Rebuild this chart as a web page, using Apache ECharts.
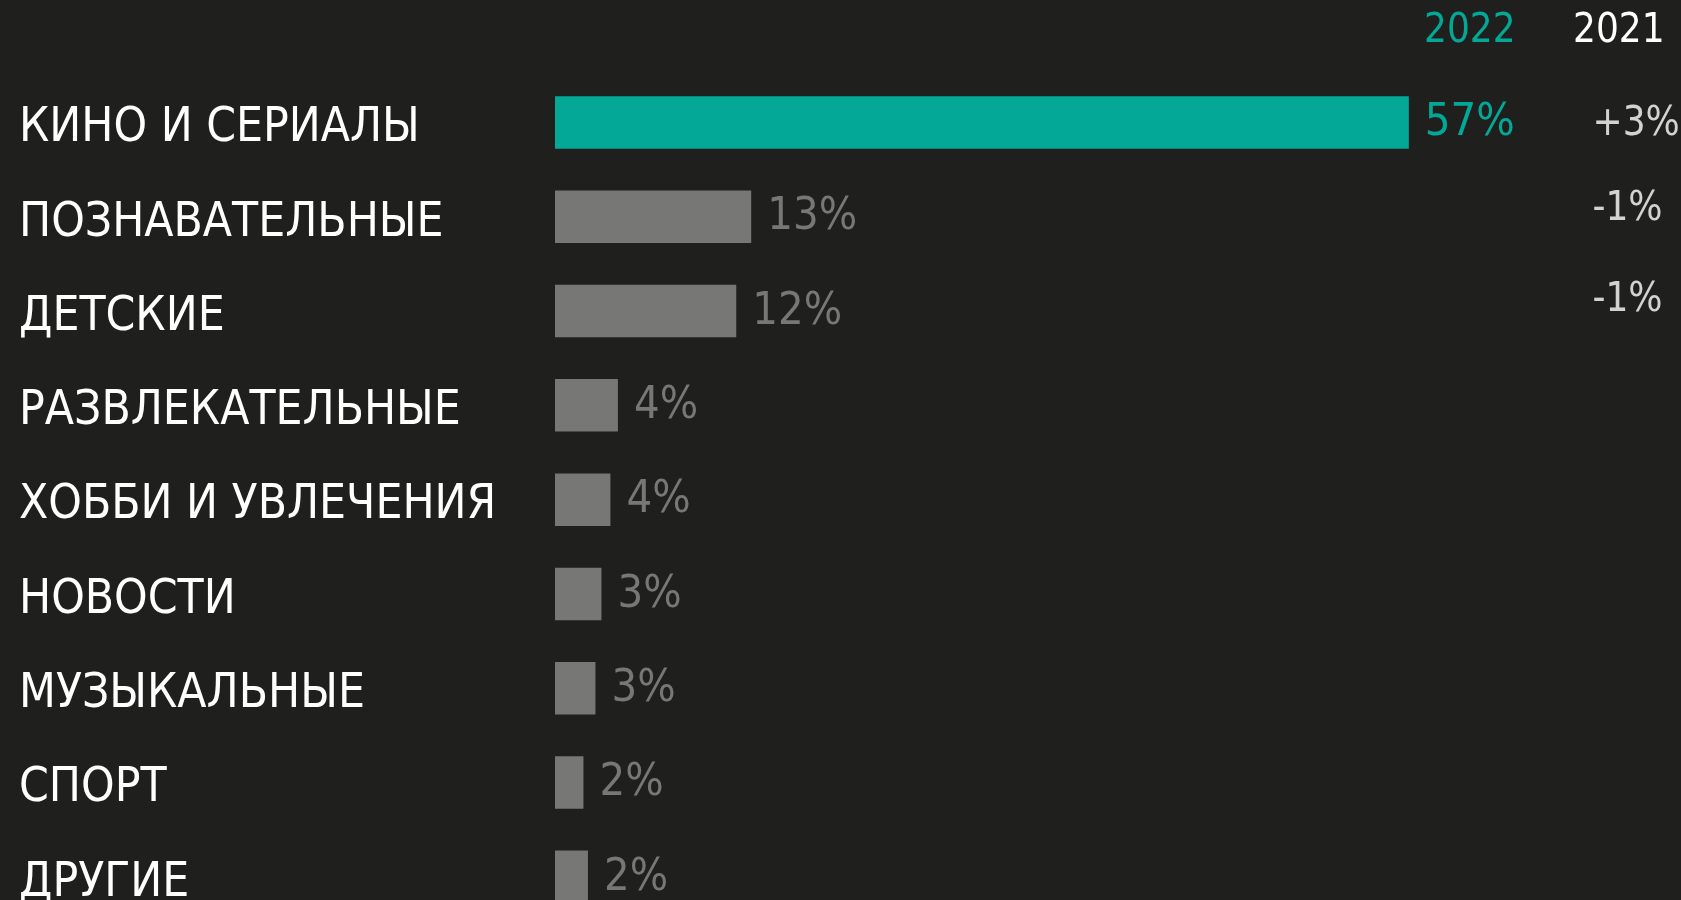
<!DOCTYPE html>
<html><head><meta charset="utf-8">
<script src="https://cdn.jsdelivr.net/npm/echarts@6/dist/echarts.min.js"></script>
<style>html,body{margin:0;padding:0;background:#1f1f1e;overflow:hidden;} #c{width:1681px;height:900px;}</style>
</head><body><div id="c"></div>
<script>
// ---- data ----
const categories = ['КИНО И СЕРИАЛЫ','ПОЗНАВАТЕЛЬНЫЕ','ДЕТСКИЕ','РАЗВЛЕКАТЕЛЬНЫЕ','ХОББИ И УВЛЕЧЕНИЯ','НОВОСТИ','МУЗЫКАЛЬНЫЕ','СПОРТ','ДРУГИЕ'];
const values2022 = [57, 13.1, 12.1, 4.2, 3.7, 3.1, 2.7, 1.9, 2.2];
const labels2022 = ['57%','13%','12%','4%','4%','3%','3%','2%','2%'];
const change2021 = ['+3%','-1%','-1%','','','','','',''];
const yearHeaders = ['2022','2021'];

// ---- style ----
const TEAL = '#03a996', GRAY = '#777775', BG = '#1f1f1e', WHITE = '#ffffff';
const FONT = '"DejaVu Sans Condensed", "Liberation Sans Narrow", sans-serif';
const axisMax = 75.17;                  // 1126px of plot width at ~15px per percent
const changeColumnX = 69.26;            // axis units where the 2021 column starts
const changeShiftY = [2, -7.5, -10];    // vertical nudge of the 2021 column texts

const chart = echarts.init(document.getElementById('c'), null, {renderer:'canvas'});
chart.setOption({
  backgroundColor: BG,
  animation: false,
  grid: {left: 555, top: 75.3, width: 1126, height: 848.7, containLabel: false, outerBoundsMode: 'none'},
  xAxis: {type:'value', min:0, max:axisMax, show:false},
  yAxis: {
    type:'category', inverse:true, data: categories,
    axisLine:{show:false}, axisTick:{show:false}, splitLine:{show:false},
    axisLabel:{color: WHITE, fontFamily: FONT, fontSize: 47.5, align:'left', margin: 536,
      verticalAlign:'top', lineHeight: 13}
  },
  series: [
    {
      type:'bar', barWidth: 52.5,
      data: values2022.map((v,i)=>({value:v, itemStyle:{color: i===0?TEAL:GRAY},
        label:{color: i===0?TEAL:GRAY}})),
      label:{show:true, position:'right', distance:16, fontFamily:FONT, fontSize:45,
        formatter: p => labels2022[p.dataIndex], offset:[0,1]}
    },
    {
      type:'scatter', symbolSize:0, silent:true,
      data: categories.map((c,i)=>({value:[changeColumnX, i],
        label:{offset:[0, changeShiftY[i]||0]}})),
      label:{show:true, position:'right', distance:0, color:WHITE, fontFamily:FONT, fontSize:40,
        formatter: p => change2021[p.dataIndex]}
    }
  ],
  graphic: [
    {type:'text', left:1424, top:12, style:{text: yearHeaders[0], fill: TEAL, font:'40px '+FONT}},
    {type:'text', left:1573, top:12, style:{text: yearHeaders[1], fill: WHITE, font:'40px '+FONT}}
  ]
});
</script></body></html>
